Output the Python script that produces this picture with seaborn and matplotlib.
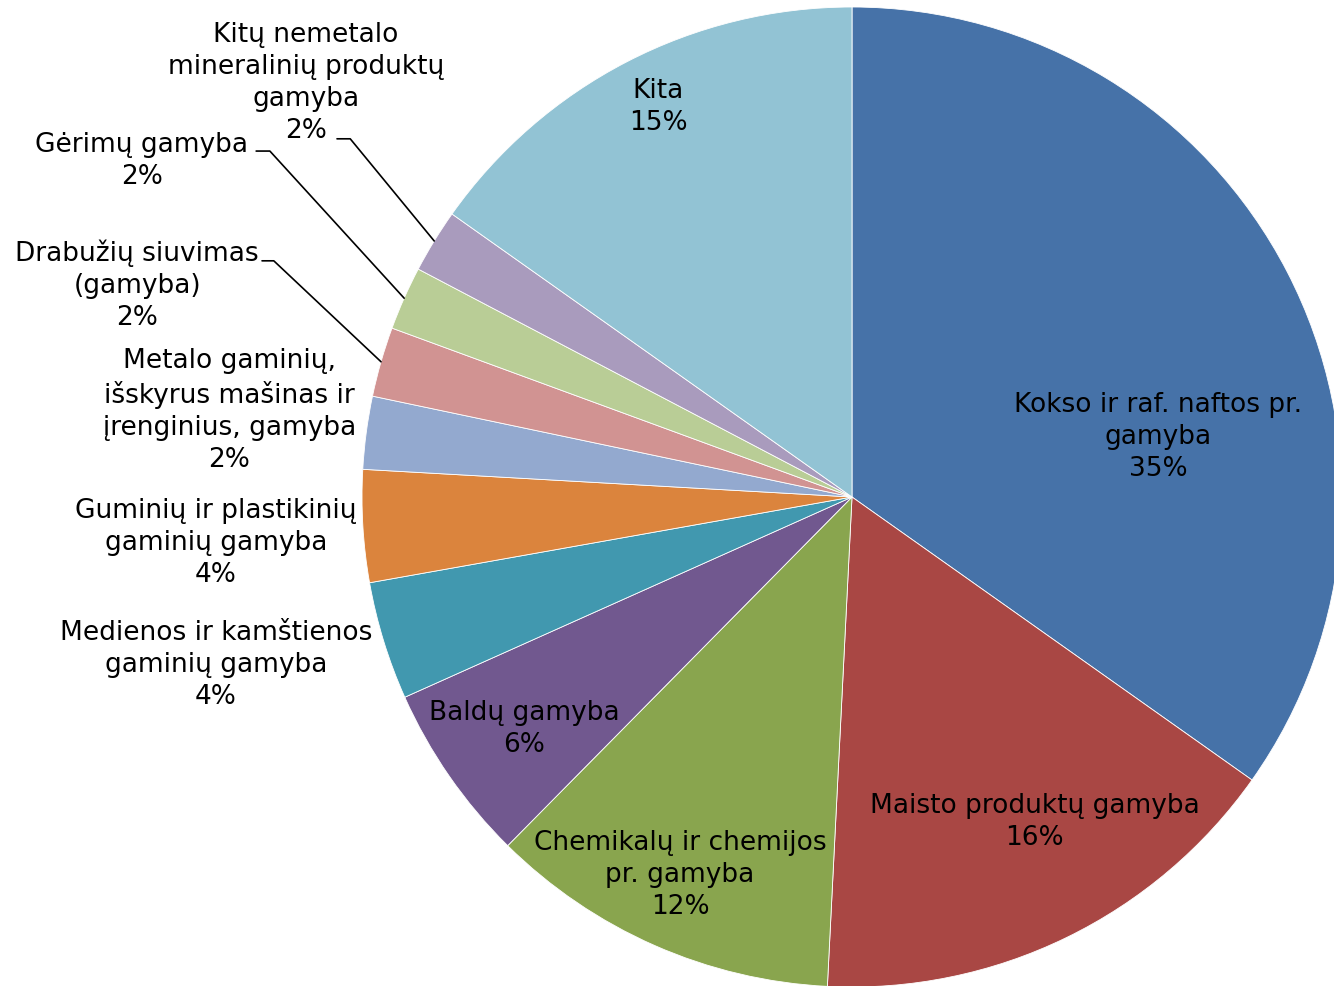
import numpy as np
import matplotlib
matplotlib.use("Agg")
import matplotlib.pyplot as plt
import seaborn as sns

# data (clockwise from 12 o'clock)
categories = [
    "Kokso ir raf. naftos pr.\ngamyba",
    "Maisto produktų gamyba",
    "Chemikalų ir chemijos\npr. gamyba",
    "Baldų gamyba",
    "Medienos ir kamštienos\ngaminių gamyba",
    "Guminių ir plastikinių\ngaminių gamyba",
    "Metalo gaminių,\nišskyrus mašinas ir\nįrenginius, gamyba",
    "Drabužių siuvimas\n(gamyba)",
    "Gėrimų gamyba",
    "Kitų nemetalo\nmineralinių produktų\ngamyba",
    "Kita",
]
shares = [34.8, 16.0, 11.6, 5.9, 3.9, 3.7, 2.4, 2.3, 2.1, 2.1, 15.2]
pct_labels = ["35%", "16%", "12%", "6%", "4%", "4%", "2%", "2%", "2%", "2%", "15%"]

colors = ["#4672A8", "#A94744", "#89A54E", "#71588F", "#4198AF", "#DB843D",
          "#93A9CF", "#D19392", "#B9CD96", "#A99BBD", "#92C3D4"]

# label centres (pie units, radius = 1) and optional leader elbows
label_pos = [(0.625, 0.124), (0.373, -0.661), (-0.351, -0.769), (-0.669, -0.471),
             (-1.298, -0.341), (-1.298, -0.092), (-1.271, 0.178), (-1.459, 0.435),
             (-1.449, 0.688), (-1.114, 0.847), (-0.396, 0.798)]
elbows = {7: (-1.180, 0.482, -1.204), 8: (-1.188, 0.706, -1.216), 9: (-1.024, 0.731, -1.051)}

sns.set_theme(style="white")
plt.rcParams["font.family"] = ["DejaVu Sans"]

fig = plt.figure(figsize=(13.34, 9.87), dpi=100)
ax = fig.add_axes([0, 0, 1, 1])
wedges, _ = ax.pie(shares, colors=colors, startangle=90, counterclock=False,
                   radius=1.0, center=(0, 0),
                   wedgeprops=dict(edgecolor="white", linewidth=0.6))

for i, (w, cat) in enumerate(zip(wedges, categories)):
    x, y = label_pos[i]
    ax.text(x, y, f"{cat}\n{pct_labels[i]}", ha="center", va="center",
            fontsize=19, color="black", linespacing=1.3)
    if i in elbows:
        ang = np.deg2rad((w.theta1 + w.theta2) / 2)
        ex, ey, tx = elbows[i]
        ax.plot([np.cos(ang), ex, tx], [np.sin(ang), ey, ey],
                color="black", linewidth=1.2)

ax.set_xlim(-852 / 490, (1334 - 852) / 490)
ax.set_ylim(-(987 - 498) / 490, 498 / 490)
ax.set_aspect("equal")
ax.axis("off")

fig.savefig("out.png", dpi=100)
